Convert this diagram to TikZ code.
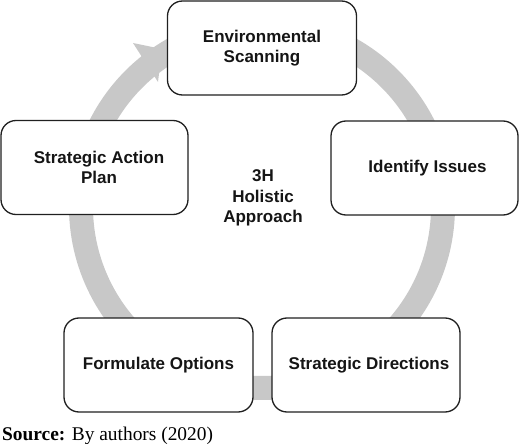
\documentclass[tikz,border=0pt]{standalone}
\usepackage{fontspec}
\setmainfont{Liberation Serif}
\newfontfamily\boxfont{Liberation Sans}
\definecolor{ringgray}{HTML}{C8C8C8}
\definecolor{boxline}{HTML}{202020}
\definecolor{boxtext}{HTML}{151515}
\begin{document}
\begin{tikzpicture}[x=1pt,y=-1pt,
  stagebox/.style={draw=boxline, line width=1.3pt, fill=white, rounded corners=15pt,
    minimum width=#1, minimum height=94pt, inner sep=0pt, align=center,
    text=boxtext, font=\boxfont\bfseries\fontsize{17}{20.5}\selectfont},
  stagebox/.default=188pt,
  centertext/.style={align=center, text=boxtext, font=\boxfont\bfseries\fontsize{17}{20.5}\selectfont},
  ring/.style={draw=ringgray, line width=24pt}]
\useasboundingbox (0,0) rectangle (520,444);
\coordinate (c) at (262,207);
% ring arrow
\draw[ring] (c) ++(95:181) arc[start angle=95, end angle=-232, radius=181];
\coordinate (tip) at (162,49);
\coordinate (w1) at (133,43);
\coordinate (w2) at (158,82);
\fill[ringgray] (w1) -- (tip) -- (w2) -- cycle;
% boxes
\node[stagebox=189pt] (env) at (262,48) {Environmental\\Scanning};
\node[stagebox=187pt] (sap) at (94.5,167.5) {\hspace*{9pt}Strategic Action\\\hspace*{9pt}Plan};
\node[stagebox=187pt] (iss) at (424.5,168) {\hspace*{6pt}Identify Issues};
\node[stagebox=189pt] (fo) at (158.5,365) {Formulate Options};
\node[stagebox=188pt] (sd) at (366,365) {\hspace*{6pt}Strategic Directions};
\node[centertext] (hol) at (263,198) {3H\\Holistic\\Approach};
% source
\node[anchor=base west, inner sep=0pt, font=\fontsize{19.4}{22}\selectfont] (src) at (2,440) {\textbf{Source:} By authors (2020)};
\end{tikzpicture}
\end{document}
